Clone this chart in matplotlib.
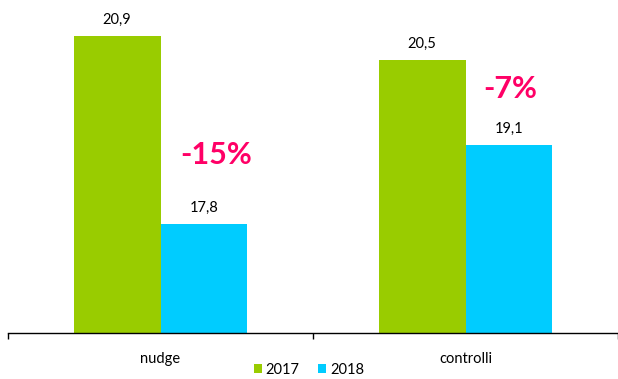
import numpy as np
import matplotlib
matplotlib.use("Agg")
import matplotlib.pyplot as plt

# -----------------------------
# Data
# -----------------------------
categories = ["nudge", "controlli"]
years = ["2017", "2018"]
values_2017 = [20.9, 20.5]
values_2018 = [17.8, 19.1]
change_labels = ["-15%", "-7%"]

colors = ["#99CC00", "#00CCFF"]
pink = "#FF0066"

plt.rcParams["font.family"] = ["Lato", "DejaVu Sans"]

fig = plt.figure(figsize=(6.18, 3.79), dpi=100)
ax = fig.add_axes([8 / 618, 46 / 379, 610 / 618, 333 / 379])

x = np.arange(len(categories))
width = 0.285

bars1 = ax.bar(x - width / 2, values_2017, width, color=colors[0], label=years[0])
bars2 = ax.bar(x + width / 2, values_2018, width, color=colors[1], label=years[1])

# value labels above the bars
for bars in (bars1, bars2):
    for b in bars:
        v = b.get_height()
        ax.annotate(f"{v:.1f}".replace(".", ","),
                    (b.get_x() + b.get_width() / 2, v),
                    xytext=(0, 11.5), textcoords="offset points",
                    ha="center", va="center", fontsize=10.5, color="black")

# percentage change labels
change_pos = [(0.182, 18.94), (1.146, 20.02)]
for (px, py), lab in zip(change_pos, change_labels):
    ax.text(px, py, lab, ha="center", va="center", fontsize=22,
            fontweight="bold", color=pink)

ax.set_xlim(-0.5, 1.5)
ax.set_ylim(16, 16 + 333 / 60.65)

for s in ["top", "right", "left"]:
    ax.spines[s].set_visible(False)
ax.spines["bottom"].set_linewidth(1.0)
ax.spines["bottom"].set_color("black")

ax.set_yticks([])
ax.set_xticks(x)
ax.set_xticklabels(categories, fontsize=10.5)
ax.tick_params(axis="x", which="major", length=0, pad=14)
ax.set_xticks([-0.5, 0.5, 1.5], minor=True)
ax.tick_params(axis="x", which="minor", length=4, width=1.0, direction="out")

fig.legend(loc="center", bbox_to_anchor=(309 / 618, 9 / 379), ncol=2,
           frameon=False, fontsize=10.5, handlelength=0.55, handleheight=0.55,
           handletextpad=0.25, columnspacing=1.3, borderaxespad=0, borderpad=0)

fig.savefig("out.png", dpi=100)
